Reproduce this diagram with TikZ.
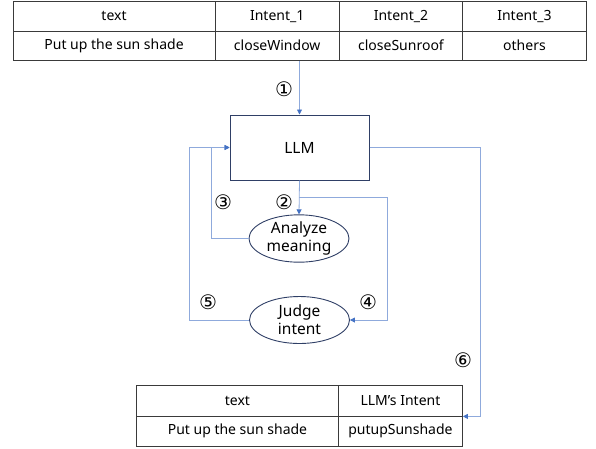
\documentclass[tikz,border=0pt]{standalone}
\usepackage{fontspec}
\setmainfont{Noto Sans}
\newfontfamily\circfont{DejaVu Sans}
\usetikzlibrary{calc,positioning,arrows.meta,shapes.geometric}
\definecolor{linkblue}{HTML}{8FAADC}
\definecolor{tipblue}{HTML}{4472C4}
\definecolor{navy}{HTML}{2F3F66}
\definecolor{tabgray}{HTML}{3A3A3A}

\begin{document}
\begin{tikzpicture}[x=1pt, y=-1pt, font=\fontsize{14}{16}\selectfont,
  cell/.style={draw=tabgray, line width=0.9pt, anchor=north west, inner sep=0pt, minimum height=29.5},
  proc/.style={draw=navy, line width=1pt, minimum width=139, minimum height=65, font=\fontsize{15.5}{18}\selectfont},
  oval/.style={ellipse, draw=navy, line width=0.9pt, inner sep=0pt, minimum width=100, minimum height=47, align=center, font=\fontsize{15.5}{18}\selectfont},
  conn/.style={draw=linkblue, line width=0.8pt},
  arr/.style={conn, -{Triangle[length=5pt, width=5pt, color=tipblue]}},
  num/.style={font=\circfont\fontsize{20}{22}\selectfont, inner sep=0pt}]
\useasboundingbox (0,0) rectangle (596,448);

% input table
\node[cell, minimum width=201.8] (t11) at (12.7,1) {text};
\node[cell, minimum width=124.5] (t12) at (214.5,1) {Intent\_1};
\node[cell, minimum width=123] (t13) at (339,1) {Intent\_2};
\node[cell, minimum width=124] (t14) at (462,1) {Intent\_3};
\node[cell, minimum width=201.8] (t21) at (12.7,30.5) {Put up the sun shade};
\node[cell, minimum width=124.5] (t22) at (214.5,30.5) {closeWindow};
\node[cell, minimum width=123] (t23) at (339,30.5) {closeSunroof};
\node[cell, minimum width=124] (t24) at (462,30.5) {others};

% model and steps
\node[proc] (llm) at (299.5,147.5) {LLM};
\node[oval] (analyze) at (299,238.5) {Analyze\\meaning};
\node[oval] (judge) at (299.5,320) {Judge\\intent};

% output table
\node[cell, minimum width=202, minimum height=30.5] (b11) at (136,385) {text};
\node[cell, minimum width=124, minimum height=30.5] (b12) at (338,385) {LLM’s Intent};
\node[cell, minimum width=202, minimum height=30.5] (b21) at (136,415.5) {Put up the sun shade};
\node[cell, minimum width=124, minimum height=30.5] (b22) at (338,415.5) {putupSunshade};

\coordinate (split) at ($(llm.south)!0.5!(analyze.north)$);

\draw[arr] (llm.north |- t22.south) -- (llm.north);
\draw[arr] (llm.south) -- (analyze.north);
\draw[arr] (analyze.west) -| ([xshift=-18]llm.west) -- (llm.west);
\draw[arr] (split) -- ++(88,0) |- (judge.east);
\draw[arr] (judge.west) -| ([xshift=-40]llm.west) -- (llm.west);
\draw[arr] (llm.east) -- ++(111,0) |- (b12.south east);

\node[num] (n1) at (284,89) {①};
\node[num] (n2) at (284,202) {②};
\node[num] (n3) at (223,202) {③};
\node[num] (n4) at (368,302) {④};
\node[num] (n5) at (208,302) {⑤};
\node[num] (n6) at (463,360) {⑥};
\end{tikzpicture}
\end{document}
